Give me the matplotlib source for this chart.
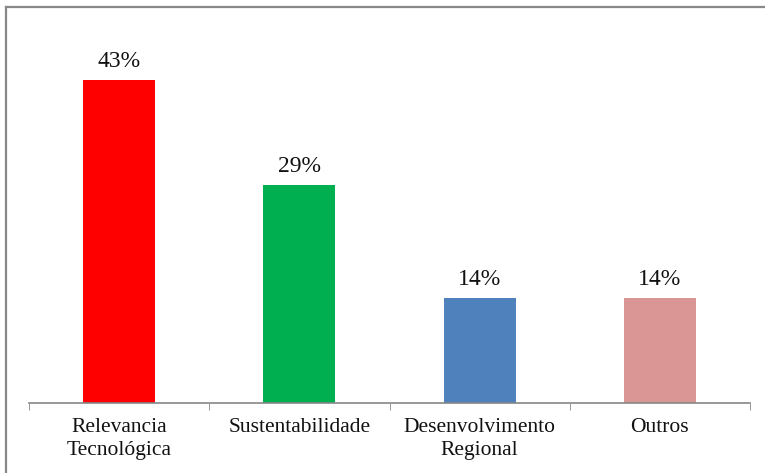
import matplotlib
matplotlib.use('Agg')
import matplotlib.pyplot as plt
from matplotlib.lines import Line2D

# chart data
categories = ['Relevancia\nTecnológica', 'Sustentabilidade', 'Desenvolvimento\nRegional', 'Outros']
values = [43, 29, 14, 14]
colors = ['#FF0000', '#00B050', '#4F81BD', '#D99694']

plt.rcParams['font.family'] = ['Liberation Serif', 'DejaVu Serif']

fig = plt.figure(figsize=(7.65, 4.73), dpi=100)
ax = fig.add_axes([29/765, 70/473, 721/765, 375/473])

x = range(len(categories))
ax.bar(x, values, width=0.4, color=colors)
for i, v in zip(x, values):
  ax.text(i, v + 1.1, f'{v}%', ha='center', va='bottom', fontsize=17, color='#111111')

ax.set_xlim(-0.5, len(categories) - 0.5)
ax.set_ylim(0, 50)
ax.set_yticks([])
ax.set_xticks(list(x))
ax.set_xticklabels(categories, fontsize=15.5, color='#111111', linespacing=1.25)
ax.tick_params(axis='x', length=0, pad=11)
# tick marks between categories
ax.set_xticks([i - 0.5 for i in range(len(categories) + 1)], minor=True)
ax.tick_params(axis='x', which='minor', length=5, color='#868686', direction='out')

for s in ['top', 'right', 'left']:
  ax.spines[s].set_visible(False)
ax.spines['bottom'].set_color('#868686')
ax.spines['bottom'].set_linewidth(1.2)

# chart area border (top and left visible)
fig.add_artist(Line2D([6.5/765, 6.5/765], [0, 1 - 7/473], color='#888888', lw=1.6, transform=fig.transFigure))
fig.add_artist(Line2D([6.5/765, 1], [1 - 7/473, 1 - 7/473], color='#888888', lw=1.6, transform=fig.transFigure))

fig.savefig('out.png', dpi=100)
